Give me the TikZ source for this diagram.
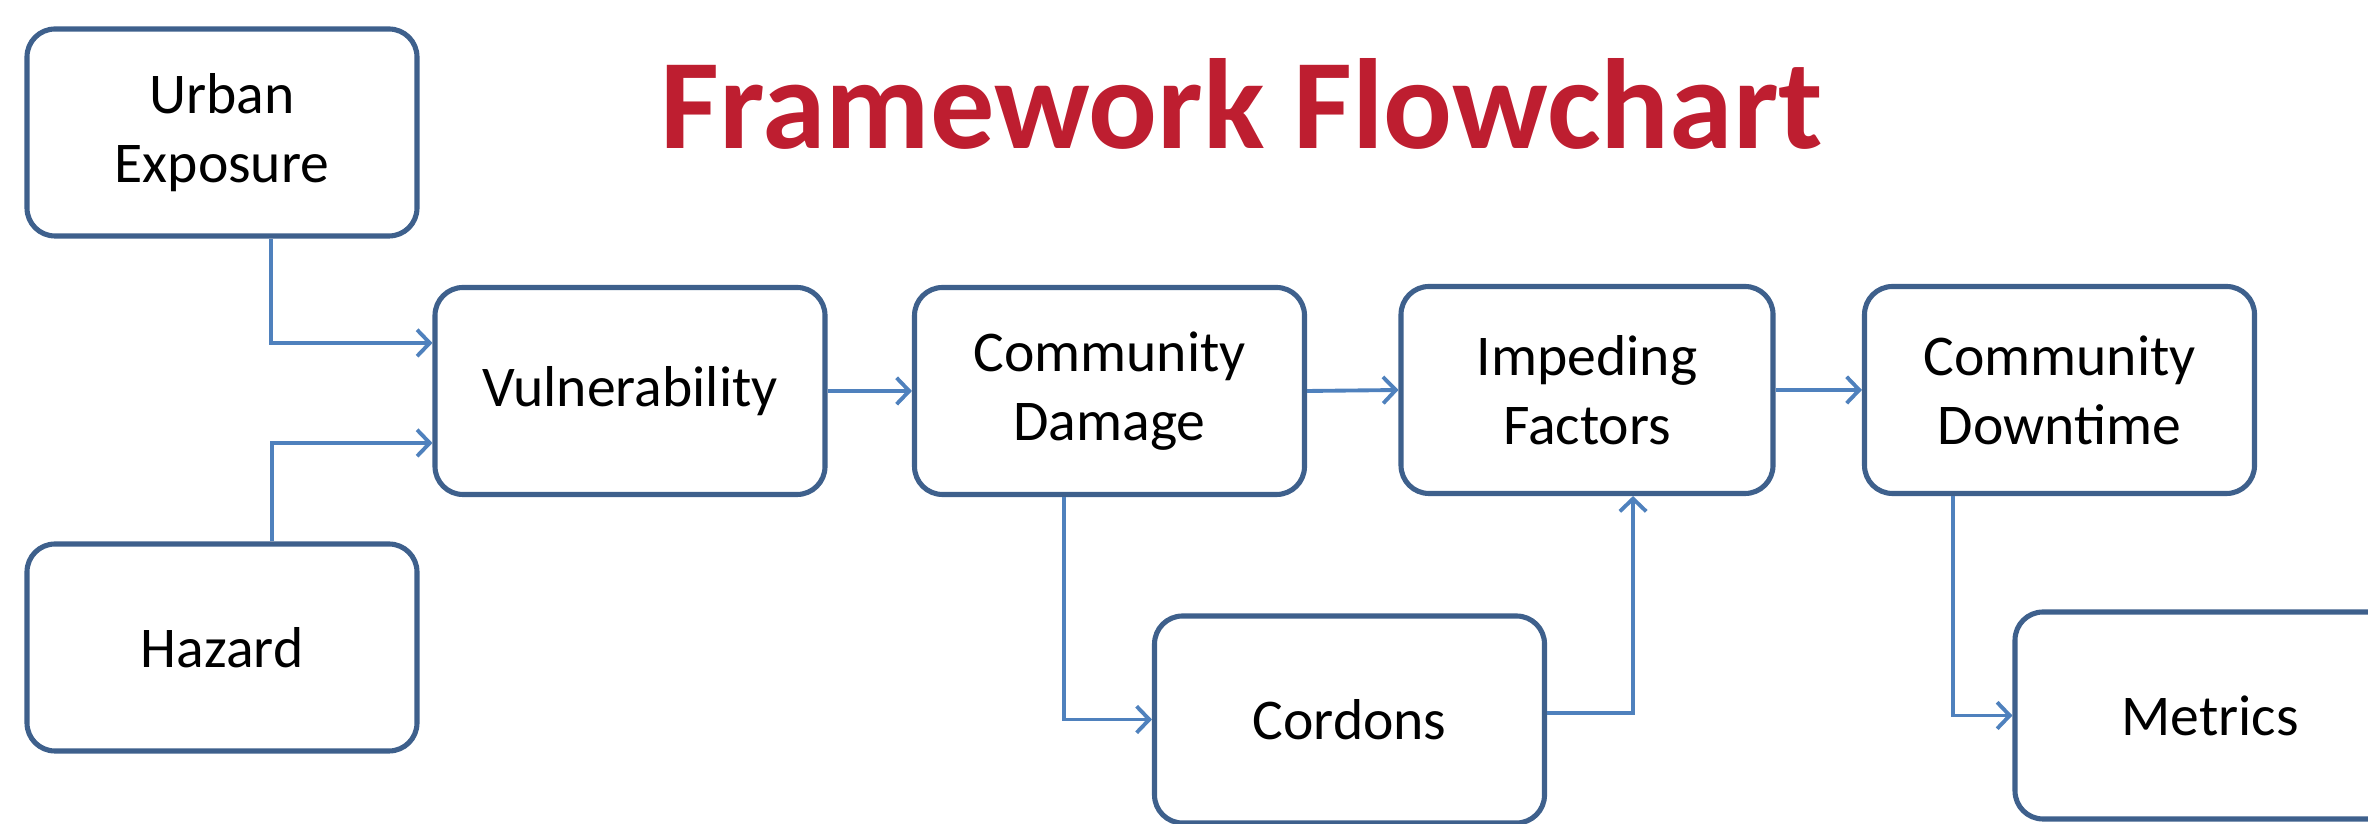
\documentclass[tikz,border=0pt]{standalone}
\usepackage{fontspec}
\setmainfont{Carlito}
\usetikzlibrary{arrows.meta}

\definecolor{boxline}{RGB}{62,96,140}
\definecolor{flowline}{RGB}{79,129,189}
\definecolor{titlered}{RGB}{190,30,48}

\begin{document}
\begin{tikzpicture}[
    block/.style={draw=boxline, line width=1.45pt, rounded corners=0.28cm, fill=white,
        minimum width=3.9cm, minimum height=2.07cm, align=center, inner sep=0pt,
        font=\fontsize{16.4}{19.6}\selectfont},
    flow/.style={draw=flowline, line width=1.1pt, -{Straight Barb[length=3.6pt,width=7.5pt,line width=1.1pt]}}
  ]
    \useasboundingbox (0,0) rectangle (23.68,-8.24);
    \node [text=titlered, font=\fontsize{36.5}{40}\selectfont\bfseries, anchor=base] (title) at (12.42,-1.49) {Framework Flowchart};
    \node [block] (ue) at (2.22,-1.325) {Urban\\Exposure};
    \node [block] (hz) at (2.22,-6.475) {Hazard};
    \node [block] (vu) at (6.30,-3.91) {Vulnerability};
    \node [block] (cd) at (11.095,-3.91) {Community\\Damage};
    \node [block, minimum width=3.72cm] (if) at (15.87,-3.90) {Impeding\\Factors};
    \node [block] (cdt) at (20.595,-3.90) {Community\\Downtime};
    \node [block] (co) at (13.495,-7.195) {Cordons};
    \node [block] (me) at (22.10,-7.155) {Metrics};
    \draw [flow] ([xshift=0.49cm]ue.south) |- ([yshift=0.48cm]vu.west);
    \draw [flow] ([xshift=0.50cm]hz.north) |- ([yshift=-0.52cm]vu.west);
    \draw [flow] (vu.east) -- (cd.west);
    \draw [flow] (cd.east) -- (if.west);
    \draw [flow] (if.east) -- (cdt.west);
    \draw [flow] ([xshift=-0.455cm]cd.south) |- (co.west);
    \draw [flow] ([yshift=0.065cm]co.east) -| ([xshift=0.46cm]if.south);
    \draw [flow] ([xshift=-1.065cm]cdt.south) |- (me.west);
\end{tikzpicture}
\end{document}
